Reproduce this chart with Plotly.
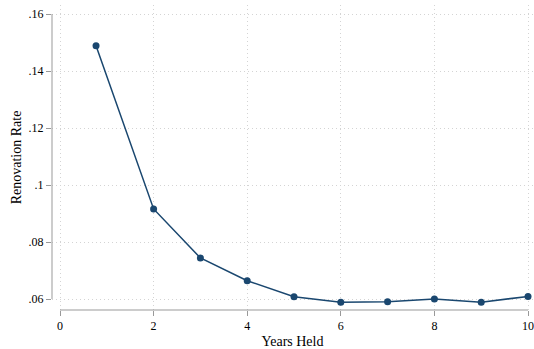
import plotly.graph_objects as go

years = [0.77, 2, 3, 4, 5, 6, 7, 8, 9, 10]
rate = [0.1489, 0.0916, 0.0744, 0.0664, 0.0608, 0.0589, 0.0590, 0.0600, 0.0589, 0.0609]
xticks = [0, 2, 4, 6, 8, 10]
yticks = [0.06, 0.08, 0.10, 0.12, 0.14, 0.16]
ytick_labels = [".06", ".08", ".1", ".12", ".14", ".16"]

navy = "#1a476f"
font = "Liberation Serif, Times New Roman, serif"

fig = go.Figure()
fig.add_trace(go.Scatter(
    x=years, y=rate, mode="lines+markers",
    line=dict(color=navy, width=1.5),
    marker=dict(color=navy, size=7),
    showlegend=False,
))

W, H = 534, 349
left, right, top, bottom = 52, 1, 5, 39
ppx = 46.8
x0 = 0 - (60 - left) / ppx
x1 = 10 + (W - right - 528) / ppx
ppy = 2850.0
y0 = 0.06 - ((H - bottom) - 299) / ppy
y1 = 0.16 + (14 - top) / ppy

grid = dict(showgrid=True, gridcolor="#d4d4d4", griddash="1px,3px", gridwidth=1)

fig.update_layout(
    width=W, height=H,
    margin=dict(l=left, r=right, t=top, b=bottom),
    paper_bgcolor="white", plot_bgcolor="white",
    font=dict(family=font, size=12, color="black"),
    xaxis=dict(
        range=[x0, x1], tickvals=xticks, ticktext=[str(t) for t in xticks],
        zeroline=False, showline=False,
        ticks="outside", ticklen=5, tickcolor="#999999", tickwidth=1,
        tickfont=dict(family=font, size=12),
        title=dict(text="Years Held", font=dict(family=font, size=14), standoff=3),
        **grid,
    ),
    yaxis=dict(
        range=[y0, y1], tickvals=yticks, ticktext=ytick_labels,
        zeroline=False, showline=False,
        ticks="outside", ticklen=5, tickcolor="#999999", tickwidth=1,
        tickfont=dict(family=font, size=12),
        title=dict(text="Renovation Rate", font=dict(family=font, size=14), standoff=3),
        **grid,
    ),
    shapes=[
        dict(type="line", xref="x", yref="paper", x0=0, x1=10, y0=0, y1=0,
             line=dict(color="#999999", width=1)),
        dict(type="line", xref="paper", yref="y", x0=0, x1=0, y0=0.06, y1=0.16,
             line=dict(color="#999999", width=1)),
    ],
)

fig.write_html("out.html")
